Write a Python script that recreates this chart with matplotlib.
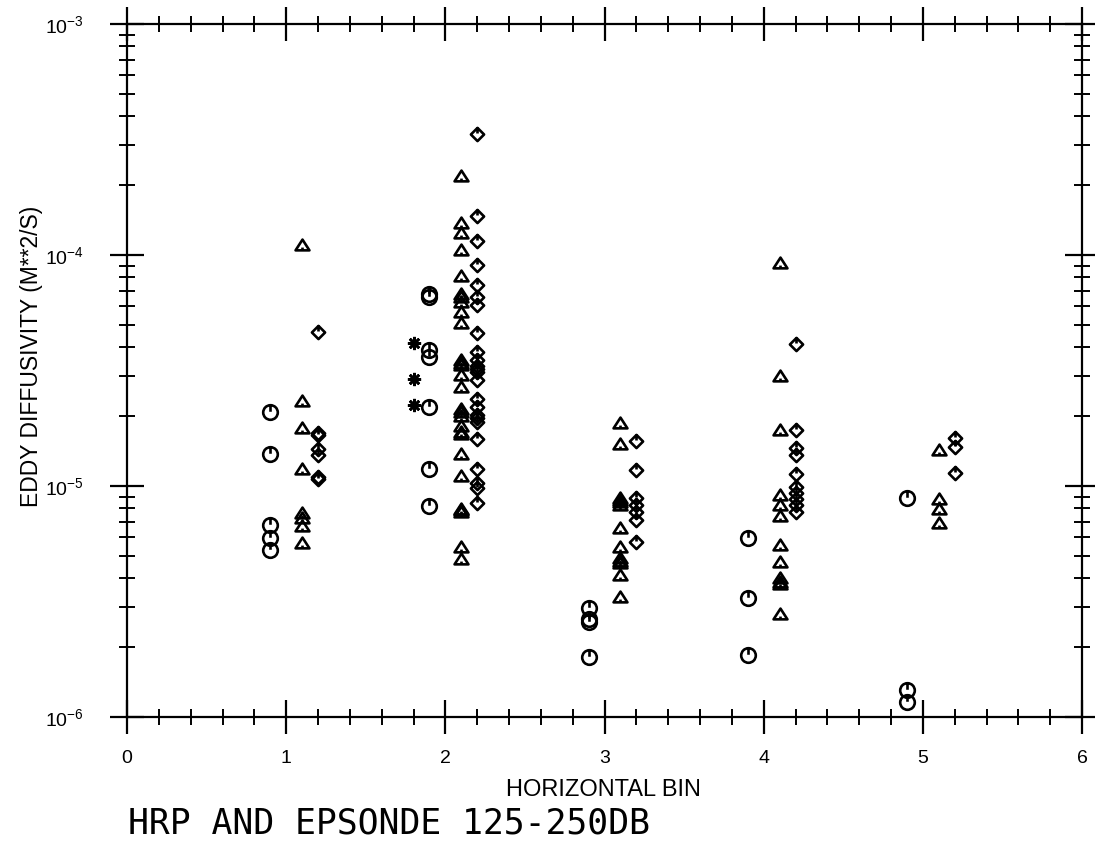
import matplotlib.pyplot as plt
from matplotlib.path import Path
from matplotlib.ticker import MultipleLocator, LogLocator, NullFormatter, FixedLocator

plt.rcParams['font.family'] = ['Liberation Sans', 'DejaVu Sans']
plt.rcParams['mathtext.default'] = 'regular'

# HRP profiles (circles)
hrp_x = [0.9, 0.9, 0.9, 0.9, 0.9,
         1.9, 1.9, 1.9, 1.9, 1.9, 1.9, 1.9,
         2.9, 2.9, 2.9, 2.9,
         3.9, 3.9, 3.9,
         4.9, 4.9, 4.9]
hrp_k = [2.09e-5, 1.38e-5, 6.77e-6, 5.94e-6, 5.29e-6,
         6.8e-5, 6.6e-5, 3.88e-5, 3.61e-5, 2.2e-5, 1.19e-5, 8.19e-6,
         2.95e-6, 2.65e-6, 2.58e-6, 1.82e-6,
         5.94e-6, 3.26e-6, 1.85e-6,
         8.85e-6, 1.31e-6, 1.16e-6]

# epsonde drops (triangles)
eps_x = [1.1] * 8 + [2.1] * 28 + [3.1] * 13 + [4.1] * 12 + [5.1] * 4
eps_k = [1.1e-4, 2.33e-5, 1.78e-5, 1.19e-5, 7.62e-6, 7.25e-6, 6.71e-6, 5.69e-6,
         2.2e-4, 1.38e-4, 1.24e-4, 1.05e-4, 8.11e-5, 6.8e-5, 6.6e-5, 6.28e-5,
         5.68e-5, 5.06e-5, 3.5e-5, 3.42e-5, 3.35e-5, 3.03e-5, 2.68e-5, 2.15e-5,
         2.1e-5, 2.0e-5, 1.81e-5, 1.72e-5, 1.68e-5, 1.37e-5, 1.1e-5, 7.95e-6,
         7.75e-6, 5.46e-6, 4.82e-6, 7.85e-6,
         1.87e-5, 1.52e-5, 8.9e-6, 8.7e-6, 8.5e-6, 6.56e-6, 5.46e-6, 4.9e-6,
         4.75e-6, 4.63e-6, 4.12e-6, 3.32e-6, 8.3e-6,
         9.2e-5, 3.0e-5, 1.75e-5, 9.14e-6, 8.27e-6, 7.41e-6, 5.55e-6, 4.7e-6,
         4.0e-6, 3.85e-6, 3.75e-6, 2.8e-6,
         1.43e-5, 8.77e-6, 7.93e-6, 6.9e-6]

# epsonde profiles (diamonds)
dia_x = [1.2] * 7 + [2.2] * 24 + [3.2] * 7 + [4.2] * 10 + [5.2] * 3
dia_k = [4.64e-5, 1.7e-5, 1.66e-5, 1.44e-5, 1.36e-5, 1.09e-5, 1.07e-5,
         3.33e-4, 1.48e-4, 1.15e-4, 9.05e-5, 7.41e-5, 6.6e-5, 6.08e-5, 4.61e-5,
         3.82e-5, 3.51e-5, 3.31e-5, 3.2e-5, 3.1e-5, 2.88e-5, 2.39e-5, 2.2e-5,
         2.03e-5, 1.97e-5, 1.9e-5, 1.59e-5, 1.19e-5, 1.03e-5, 9.78e-6, 8.47e-6,
         1.56e-5, 1.17e-5, 8.84e-6, 8.27e-6, 7.74e-6, 7.13e-6, 5.74e-6,
         4.1e-5, 1.75e-5, 1.46e-5, 1.36e-5, 1.13e-5, 9.93e-6, 9.29e-6, 8.75e-6,
         8.27e-6, 7.74e-6,
         1.61e-5, 1.48e-5, 1.14e-5]

# microstructure (stars)
star_x = [1.8, 1.8, 1.8]
star_k = [4.18e-5, 2.9e-5, 2.25e-5]

x_ticks = [0, 1, 2, 3, 4, 5, 6]
y_ticks = [1e-6, 1e-5, 1e-4, 1e-3]
y_ticklabels = [r'$10^{-6}$', r'$10^{-5}$', r'$10^{-4}$', r'$10^{-3}$']

MV, LT, CL = Path.MOVETO, Path.LINETO, Path.CLOSEPOLY

# open symbols with a little stroke inside, like the plotter glyphs
circ = Path.make_compound_path(Path.unit_circle(), Path([(0, 1), (0, 0.1)]))
tri = Path.make_compound_path(
    Path([(-1, -0.7), (1, -0.7), (0, 0.85), (-1, -0.7)], [MV, LT, LT, CL]),
    Path([(0, -0.7), (0, -0.3)]))
diam = Path.make_compound_path(
    Path([(0, 1), (1, 0), (0, -1), (-1, 0), (0, 1)], [MV, LT, LT, LT, CL]),
    Path([(0, 1), (0, 0.15)]))

fig = plt.figure(figsize=(10.95, 8.47), dpi=100)
ax = fig.add_axes([127 / 1095, 1 - 717 / 847, 955 / 1095, 693 / 847])

style = dict(ls='none', mec='k', mfc='none', mew=1.9)
ax.plot(hrp_x, hrp_k, marker=circ, ms=10.5, **style)
ax.plot(eps_x, eps_k, marker=tri, ms=10, **style)
ax.plot(dia_x, dia_k, marker=diam, ms=9.5, **style)
ax.plot(star_x, star_k, ls='none', marker=(8, 2, 0), ms=9.5, mec='k', mew=1.9)

ax.set_yscale('log')
ax.set_xlim(0, 6)
ax.set_ylim(1e-6, 1e-3)

ax.xaxis.set_major_locator(FixedLocator(x_ticks))
ax.xaxis.set_minor_locator(MultipleLocator(0.2))
ax.set_xticklabels([str(t) for t in x_ticks])
ax.yaxis.set_major_locator(FixedLocator(y_ticks))
ax.set_yticklabels(y_ticklabels)
ax.yaxis.set_minor_locator(LogLocator(base=10, subs=range(2, 10)))
ax.yaxis.set_minor_formatter(NullFormatter())

for s in ax.spines.values():
    s.set_linewidth(1.6)

ax.tick_params(which='major', direction='inout', length=24, width=1.6,
               top=True, right=True, labelsize=14)
ax.tick_params(which='minor', direction='inout', length=12, width=1.4,
               top=True, right=True)
ax.tick_params(axis='x', which='major', pad=12)
ax.tick_params(axis='y', which='major', pad=19)

fig.text(32 / 1095, 1 - 356 / 847, 'EDDY DIFFUSIVITY (M**2/S)', rotation=90,
         ha='center', va='center', fontsize=16.5)
fig.text(603 / 1095, 1 - 790 / 847, 'HORIZONTAL BIN',
         ha='center', va='center', fontsize=17)
fig.text(128 / 1095, 1 - 823 / 847, 'HRP AND EPSONDE 125-250DB',
         ha='left', va='center', fontsize=25, family=['DejaVu Sans Mono'])

fig.savefig('out.png', dpi=100)
